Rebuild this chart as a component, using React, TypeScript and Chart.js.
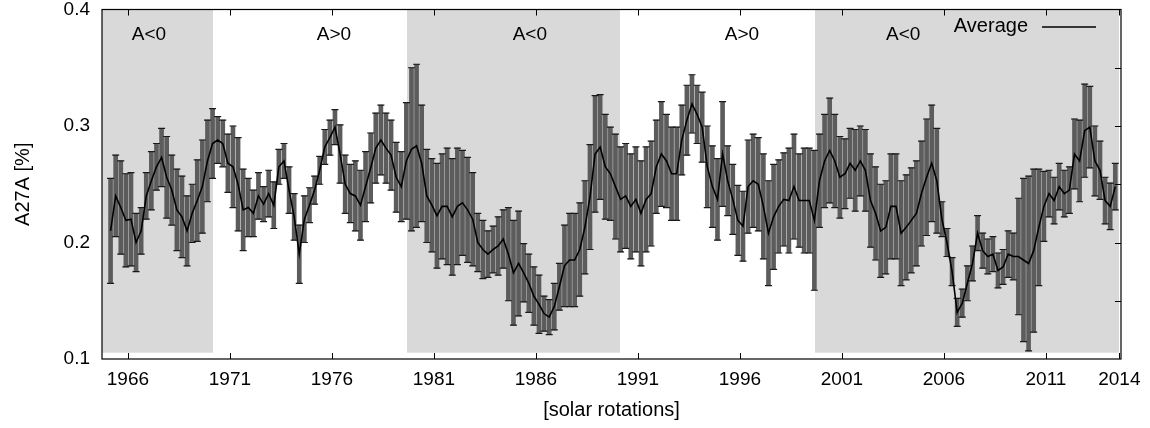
import React, { useEffect, useRef } from 'react';
import { Chart, registerables } from 'chart.js';

Chart.register(...registerables);

// sampling of the series (one reading every quarter year, starting in early 1965)
const YEAR_START = 1965.15;
const YEAR_STEP = 0.25;

// A27A average [%]
const AVERAGE = [
  0.21, 0.24, 0.23, 0.219, 0.22, 0.2, 0.21, 0.24, 0.253, 0.265,
  0.273, 0.256, 0.245, 0.228, 0.222, 0.21, 0.225, 0.236, 0.248, 0.27,
  0.285, 0.288, 0.285, 0.268, 0.265, 0.25, 0.228, 0.23, 0.225, 0.24,
  0.233, 0.242, 0.232, 0.265, 0.27, 0.245, 0.222, 0.19, 0.22, 0.232,
  0.245, 0.262, 0.282, 0.29, 0.299, 0.276, 0.25, 0.242, 0.24, 0.232,
  0.248, 0.264, 0.281, 0.288, 0.281, 0.275, 0.256, 0.248, 0.27, 0.28,
  0.283, 0.268, 0.24, 0.232, 0.223, 0.231, 0.231, 0.222, 0.231, 0.234,
  0.228, 0.22, 0.2, 0.194, 0.19, 0.194, 0.197, 0.203, 0.19, 0.174,
  0.182, 0.174, 0.165, 0.154, 0.147, 0.139, 0.136, 0.145, 0.162, 0.18,
  0.185, 0.185, 0.194, 0.213, 0.239, 0.276, 0.282, 0.265, 0.259, 0.248,
  0.237, 0.24, 0.231, 0.237, 0.225, 0.237, 0.242, 0.265, 0.276, 0.27,
  0.259, 0.259, 0.288, 0.305, 0.319, 0.31, 0.299, 0.265, 0.248, 0.237,
  0.276, 0.253, 0.237, 0.219, 0.214, 0.248, 0.253, 0.25, 0.231, 0.208,
  0.222, 0.231, 0.237, 0.236, 0.248, 0.236, 0.236, 0.236, 0.219, 0.253,
  0.27, 0.279, 0.27, 0.256, 0.259, 0.268, 0.262, 0.27, 0.262, 0.236,
  0.225, 0.21, 0.213, 0.231, 0.231, 0.208, 0.213, 0.219, 0.225, 0.242,
  0.256, 0.268, 0.253, 0.22, 0.2, 0.175, 0.14, 0.148, 0.165, 0.182,
  0.208, 0.193, 0.188, 0.19, 0.176, 0.179, 0.19, 0.188, 0.188, 0.185,
  0.182, 0.193, 0.213, 0.231, 0.242, 0.236, 0.248, 0.242, 0.245, 0.276,
  0.27, 0.296, 0.299, 0.27, 0.262, 0.236, 0.231, 0.248,
];

// half length of each error bar [%]
const ERROR = [
  0.045, 0.035, 0.04, 0.04, 0.04, 0.025, 0.02, 0.02, 0.025, 0.02,
  0.025, 0.035, 0.03, 0.035, 0.035, 0.03, 0.025, 0.035, 0.04, 0.035,
  0.03, 0.02, 0.02, 0.025, 0.035, 0.04, 0.035, 0.025, 0.02, 0.02,
  0.015, 0.02, 0.02, 0.015, 0.015, 0.02, 0.02, 0.025, 0.02, 0.015,
  0.012, 0.012, 0.015, 0.015, 0.015, 0.025, 0.025, 0.025, 0.03, 0.03,
  0.03, 0.03, 0.03, 0.03, 0.03, 0.03, 0.03, 0.03, 0.05, 0.07,
  0.07, 0.05, 0.04, 0.04, 0.045, 0.045, 0.05, 0.05, 0.05, 0.045,
  0.045, 0.04, 0.025, 0.025, 0.02, 0.02, 0.025, 0.025, 0.04, 0.045,
  0.045, 0.025, 0.025, 0.025, 0.025, 0.015, 0.015, 0.02, 0.02, 0.035,
  0.04, 0.04, 0.04, 0.04, 0.045, 0.05, 0.045, 0.045, 0.04, 0.045,
  0.045, 0.045, 0.045, 0.045, 0.045, 0.045, 0.045, 0.04, 0.045, 0.04,
  0.04, 0.04, 0.03, 0.03, 0.025, 0.025, 0.03, 0.035, 0.035, 0.035,
  0.045, 0.03, 0.03, 0.03, 0.03, 0.04, 0.04, 0.04, 0.045, 0.045,
  0.045, 0.04, 0.04, 0.045, 0.045, 0.04, 0.045, 0.045, 0.06, 0.04,
  0.04, 0.045, 0.04, 0.035, 0.03, 0.03, 0.035, 0.03, 0.035, 0.04,
  0.04, 0.04, 0.04, 0.045, 0.045, 0.045, 0.045, 0.045, 0.045, 0.045,
  0.05, 0.05, 0.045, 0.015, 0.012, 0.012, 0.012, 0.012, 0.015, 0.015,
  0.015, 0.015, 0.015, 0.015, 0.015, 0.015, 0.02, 0.02, 0.05, 0.07,
  0.075, 0.07, 0.05, 0.03, 0.02, 0.02, 0.02, 0.02, 0.02, 0.03,
  0.035, 0.04, 0.035, 0.03, 0.025, 0.02, 0.02, 0.02,
];

const X_MIN = 1964.73;
const X_MAX = 2014.68;
const X_TICK_YEARS = [1966, 1971, 1976, 1981, 1986, 1991, 1996, 2001, 2006, 2011];
const LAST_TICK_VALUE = 2014.6;
const LAST_TICK_LABEL = '2014';
const Y_TICKS = [0.1, 0.2, 0.3, 0.4];
const Y_MINOR_TICKS = [0.15, 0.2, 0.25, 0.3, 0.35];

// polarity periods (shaded = A<0)
const SHADED_FROM = [X_MIN, 1979.68, 1999.68];
const SHADED_TO = [1970.17, 1990.12, 2014.58];
const SHADE_BOTTOM = 0.1054;
const POLARITY_YEARS = [1967.03, 1976.1, 1985.7, 1996.1, 2004.0];
const POLARITY_TEXT = ['A<0', 'A>0', 'A<0', 'A>0', 'A<0'];
const POLARITY_Y = 0.378;

const FONT = '"Liberation Sans", Arial, Helvetica, sans-serif';
const TICK_SIZE = 19;
const TEXT_SIZE = 20;

const decorPlugin = {
  id: 'decor',
  beforeDatasetsDraw(chart: any) {
    const { ctx, scales } = chart;
    const x = scales.x;
    const y = scales.y;
    ctx.save();
    ctx.fillStyle = '#d9d9d9';
    const yTop = y.getPixelForValue(0.4);
    const yBot = y.getPixelForValue(SHADE_BOTTOM);
    for (let i = 0; i < SHADED_FROM.length; i++) {
      const x0 = x.getPixelForValue(SHADED_FROM[i]);
      const x1 = x.getPixelForValue(SHADED_TO[i]);
      ctx.fillRect(x0, yTop, x1 - x0, yBot - yTop);
    }
    ctx.fillStyle = '#000';
    ctx.font = `${TICK_SIZE}px ${FONT}`;
    ctx.textAlign = 'center';
    ctx.textBaseline = 'middle';
    for (let i = 0; i < POLARITY_YEARS.length; i++) {
      ctx.fillText(POLARITY_TEXT[i], x.getPixelForValue(POLARITY_YEARS[i]), y.getPixelForValue(POLARITY_Y));
    }
    ctx.restore();
  },
  afterDatasetsDraw(chart: any) {
    const { ctx, chartArea, scales } = chart;
    const x = scales.x;
    const y = scales.y;
    const { left, right, top, bottom } = chartArea;
    ctx.save();
    ctx.strokeStyle = '#000';
    ctx.lineWidth = 1.2;
    ctx.strokeRect(left, top, right - left, bottom - top);
    ctx.lineWidth = 1;
    ctx.beginPath();
    const ticks = [...X_TICK_YEARS, LAST_TICK_VALUE];
    for (const t of ticks) {
      const px = Math.round(x.getPixelForValue(t)) + 0.5;
      ctx.moveTo(px, bottom);
      ctx.lineTo(px, bottom - 6);
      ctx.moveTo(px, top);
      ctx.lineTo(px, top + 6);
    }
    for (const t of Y_MINOR_TICKS) {
      const py = Math.round(y.getPixelForValue(t)) + 0.5;
      ctx.moveTo(right, py);
      ctx.lineTo(right - 6, py);
    }
    ctx.stroke();
    // legend
    const ly = top + 17;
    ctx.fillStyle = '#000';
    ctx.font = `${TEXT_SIZE}px ${FONT}`;
    ctx.textAlign = 'right';
    ctx.textBaseline = 'middle';
    ctx.fillText('Average', right - 93, ly);
    ctx.lineWidth = 1.5;
    ctx.beginPath();
    ctx.moveTo(right - 79, ly + 0.5);
    ctx.lineTo(right - 25, ly + 0.5);
    ctx.stroke();
    ctx.restore();
  },
};

export default function App() {
  const canvasRef = useRef<HTMLCanvasElement | null>(null);

  useEffect(() => {
    if (!canvasRef.current) return;
    const years = AVERAGE.map((_, i) => YEAR_START + i * YEAR_STEP);
    const avgData = AVERAGE.map((v, i) => ({ x: years[i], y: v }));
    const barData = AVERAGE.map((v, i) => ({ x: years[i], y: [v - ERROR[i], v + ERROR[i]] }));
    const lowData = AVERAGE.map((v, i) => ({ x: years[i], y: v - ERROR[i] }));
    const highData = AVERAGE.map((v, i) => ({ x: years[i], y: v + ERROR[i] }));

    const chart = new Chart(canvasRef.current, {
      type: 'bar',
      data: {
        datasets: [
          {
            type: 'line',
            label: 'Average',
            data: avgData,
            borderColor: '#000',
            borderWidth: 1.6,
            pointRadius: 0,
            tension: 0,
            order: 0,
          } as any,
          {
            type: 'line',
            label: 'low',
            data: lowData,
            showLine: false,
            pointStyle: 'line',
            pointRadius: 3.5,
            pointBorderWidth: 1.2,
            pointBorderColor: '#1a1a1a',
            order: 1,
          } as any,
          {
            type: 'line',
            label: 'high',
            data: highData,
            showLine: false,
            pointStyle: 'line',
            pointRadius: 3.5,
            pointBorderWidth: 1.2,
            pointBorderColor: '#1a1a1a',
            order: 1,
          } as any,
          {
            type: 'bar',
            label: 'error',
            data: barData,
            backgroundColor: '#5c5c5c',
            borderWidth: 0,
            barThickness: 4,
            grouped: false,
            order: 2,
          } as any,
        ],
      },
      options: {
        animation: false,
        responsive: false,
        maintainAspectRatio: false,
        layout: { padding: { left: 7, top: 9, right: 29, bottom: 0 } },
        plugins: {
          legend: { display: false },
          tooltip: { enabled: false },
        },
        scales: {
          x: {
            type: 'linear',
            min: X_MIN,
            max: X_MAX,
            offset: false,
            grid: { display: false, drawTicks: true, tickLength: 11 },
            border: { display: false },
            afterBuildTicks: (scale: any) => {
              scale.ticks = [...X_TICK_YEARS.map((v) => ({ value: v })), { value: LAST_TICK_VALUE }];
            },
            afterFit: (scale: any) => {
              scale.height = 69;
            },
            ticks: {
              color: '#000',
              padding: 0,
              font: { family: FONT, size: TICK_SIZE, lineHeight: 1 },
              maxRotation: 0,
              autoSkip: false,
              callback: (v: any) => (v === LAST_TICK_VALUE ? LAST_TICK_LABEL : String(v)),
            },
            title: {
              display: true,
              text: '[solar rotations]',
              color: '#000',
              font: { family: FONT, size: TEXT_SIZE },
              padding: { top: 4, bottom: 6 },
            },
          },
          y: {
            type: 'linear',
            min: 0.1,
            max: 0.4,
            grid: { display: false, drawTicks: true, tickLength: 12 },
            border: { display: false },
            afterBuildTicks: (scale: any) => {
              scale.ticks = Y_TICKS.map((v) => ({ value: v }));
            },
            afterFit: (scale: any) => {
              scale.width = 95;
            },
            ticks: {
              color: '#000',
              padding: 0,
              font: { family: FONT, size: TICK_SIZE, lineHeight: 1 },
              callback: (v: any) => Number(v).toFixed(1),
            },
            title: {
              display: true,
              text: 'A27A [%]',
              color: '#000',
              font: { family: FONT, size: TEXT_SIZE },
              padding: { top: 4, bottom: 4 },
            },
          },
        },
      },
      plugins: [decorPlugin],
    });
    return () => chart.destroy();
  }, []);

  return (
    <div style={{ position: 'absolute', left: 0, top: 0, width: 1150, height: 428, background: '#fff' }}>
      <canvas ref={canvasRef} width={1150} height={428} style={{ width: 1150, height: 428 }} />
    </div>
  );
}
